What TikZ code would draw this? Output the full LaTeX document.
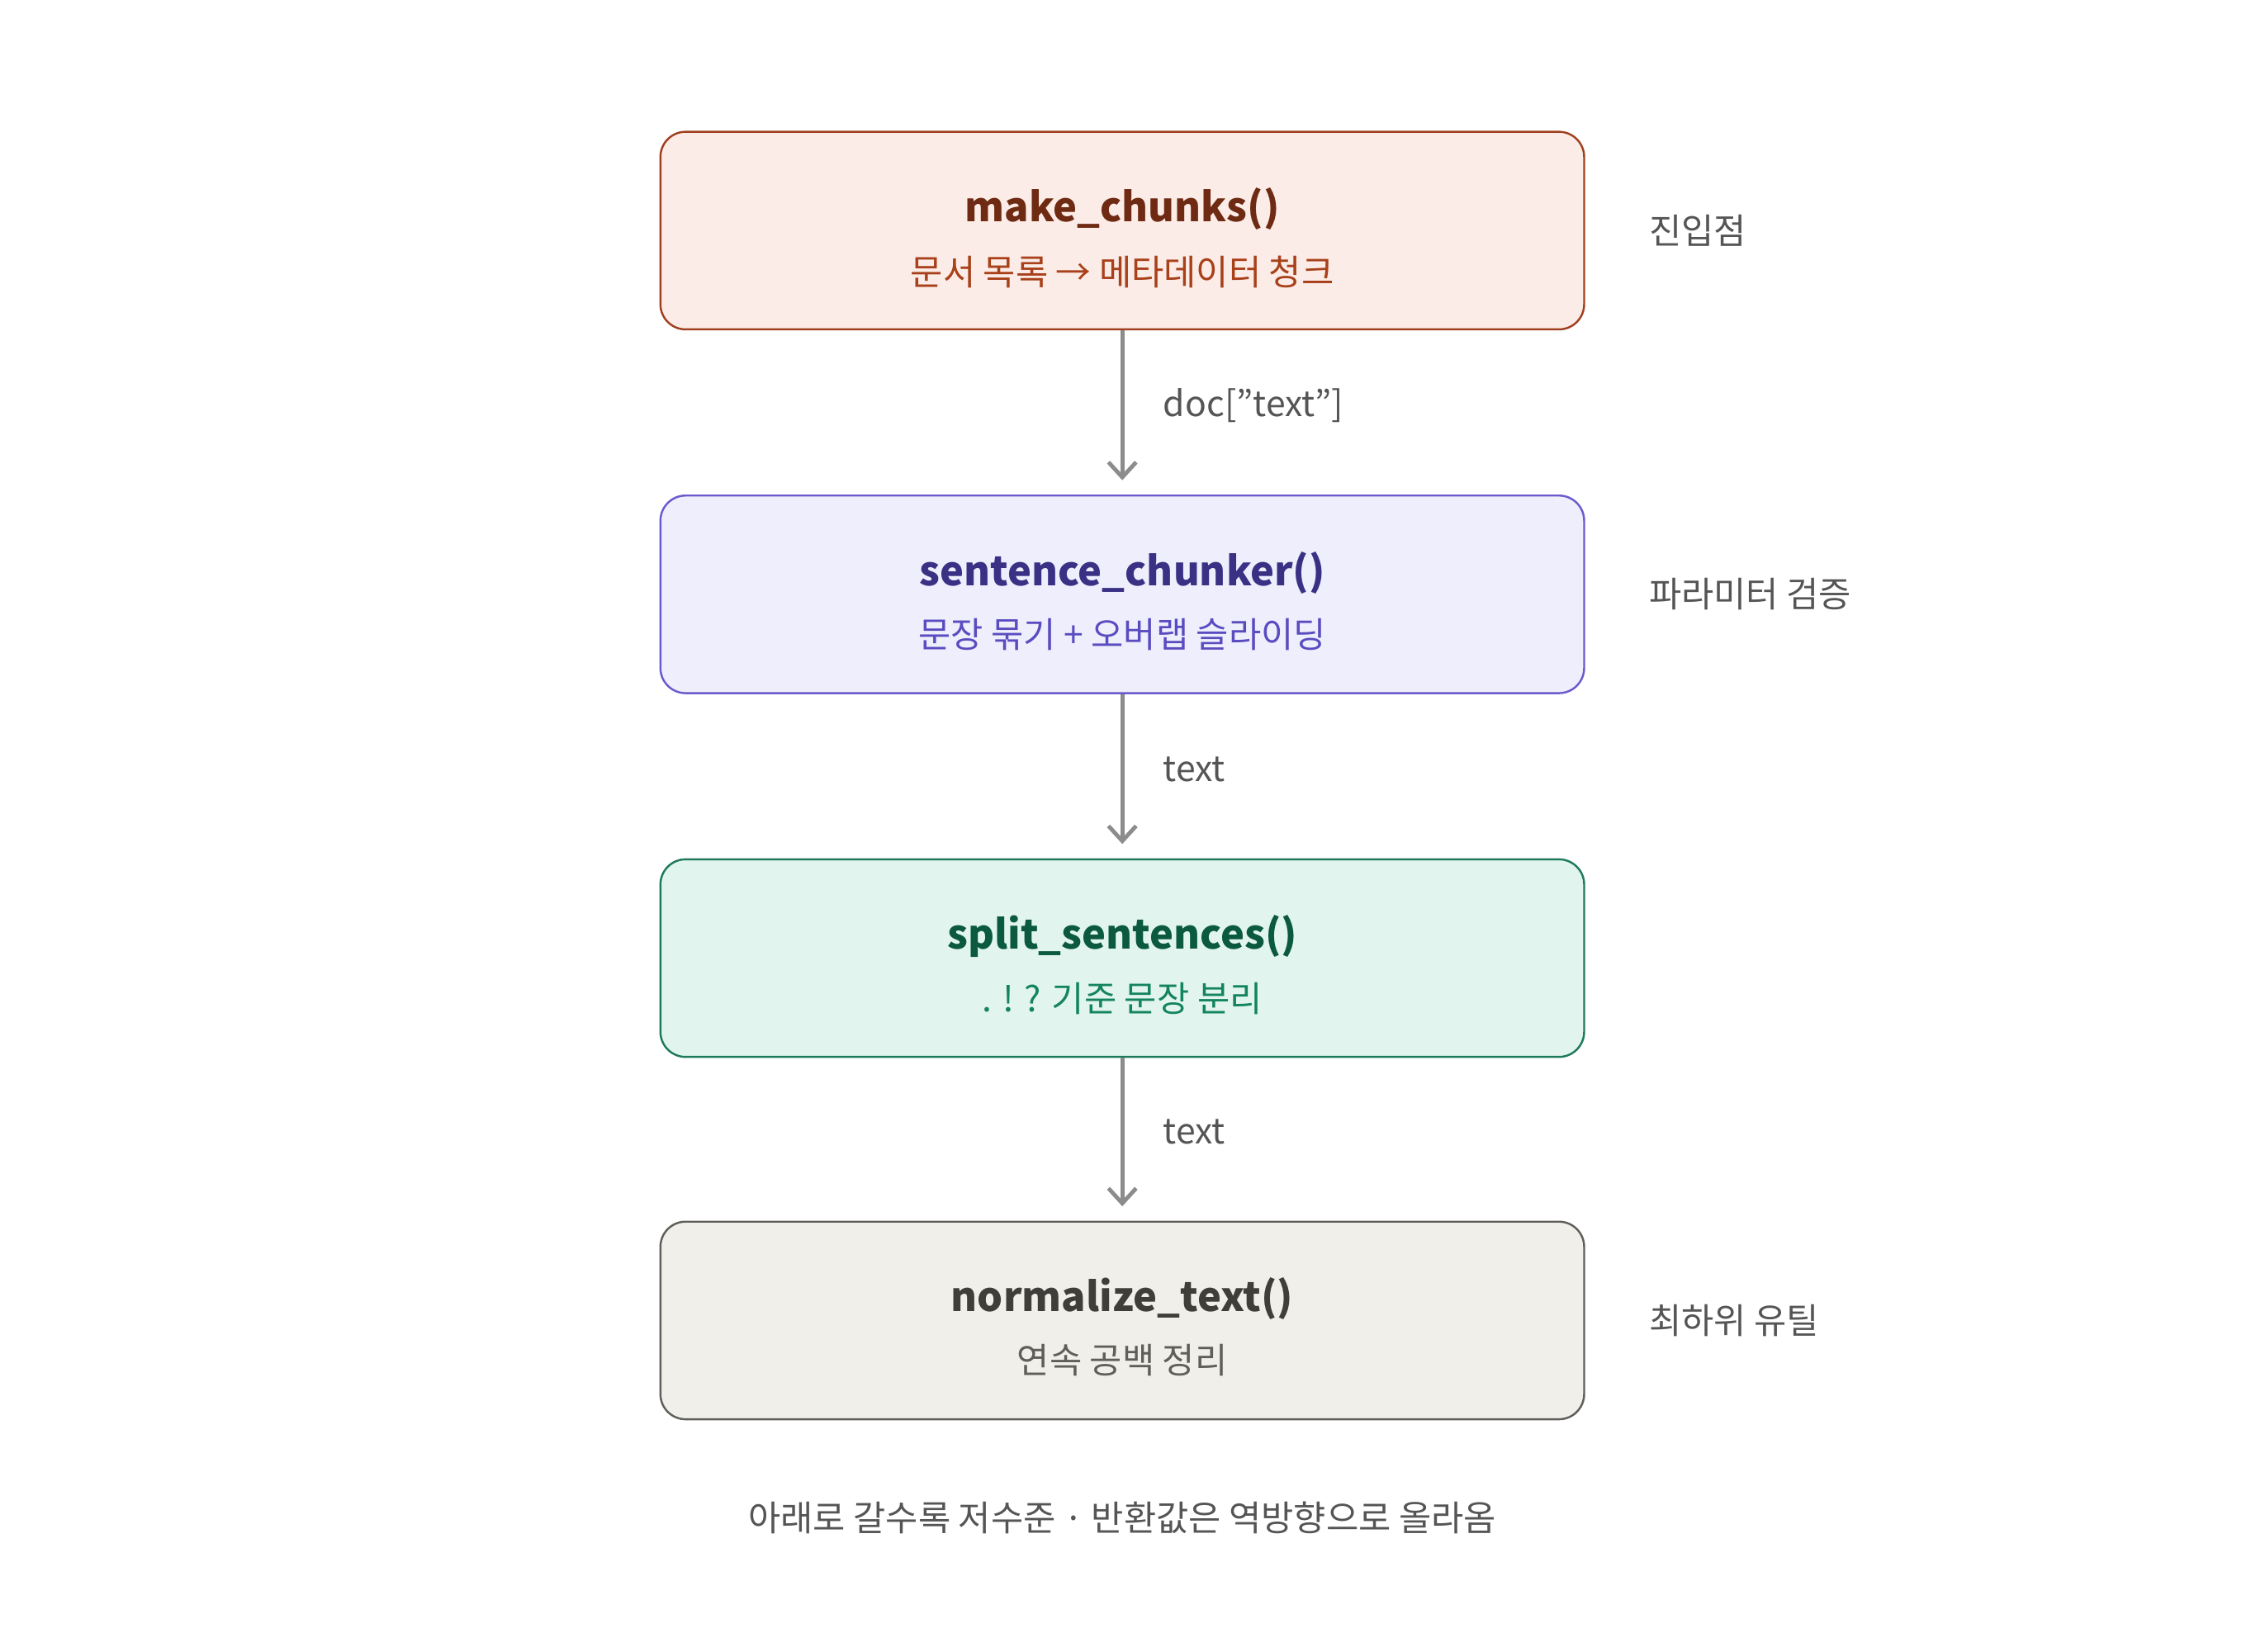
\documentclass[tikz,border=0pt]{standalone}
\usepackage{fontspec}
\setmainfont{Noto Sans CJK KR}
\usetikzlibrary{arrows.meta}
\usetikzlibrary{positioning}

\definecolor{redfill}{HTML}{FBECE7}\definecolor{redline}{HTML}{A0401F}
\definecolor{redtitle}{HTML}{6E2A12}\definecolor{redsub}{HTML}{A8401A}
\definecolor{bluefill}{HTML}{EEEEFC}\definecolor{blueline}{HTML}{6A5ACD}
\definecolor{bluetitle}{HTML}{3A3185}\definecolor{bluesub}{HTML}{5A4CC0}
\definecolor{greenfill}{HTML}{E1F5EE}\definecolor{greenline}{HTML}{1E7A5A}
\definecolor{greentitle}{HTML}{0B5A40}\definecolor{greensub}{HTML}{14845E}
\definecolor{grayfill}{HTML}{F1EFEA}\definecolor{grayline}{HTML}{5F5E5A}
\definecolor{graytitle}{HTML}{3F3E3A}\definecolor{graysub}{HTML}{5F5E5A}
\definecolor{note}{HTML}{555555}

\tikzset{
  box/.style={draw, rounded corners=10pt, minimum width=12.9cm, minimum height=2.76cm, line width=0.8pt},
  title/.style={font=\fontsize{16}{18}\selectfont\bfseries},
  sub/.style={font=\fontsize{14}{16}\selectfont},
  side/.style={anchor=west, text=note, font=\fontsize{14}{16}\selectfont},
  flow/.style={draw=gray!90, line width=1.6pt, -{Straight Barb[length=6pt,width=11pt]}},
  elabel/.style={right=0.45cm, text=note, font=\fontsize{14}{16}\selectfont}
}

\begin{document}
\begin{tikzpicture}[x=0.02cm, y=-0.02cm]
\useasboundingbox (0,0) rectangle (1568,1153);

\node[box, fill=redfill, draw=redline] (chunks) at (783.5,161) {};
\node[box, fill=bluefill, draw=blueline] (chunker) at (783.5,415) {};
\node[box, fill=greenfill, draw=greenline] (split) at (783.5,669) {};
\node[box, fill=grayfill, draw=grayline] (norm) at (783.5,922) {};

\node[title, text=redtitle] at (783.5,146) {make\_chunks()};
\node[sub, text=redsub] at (783.5,190) {문서 목록 → 메타데이터 청크};
\node[title, text=bluetitle] at (783.5,400) {sentence\_chunker()};
\node[sub, text=bluesub] at (783.5,443) {문장 묶기 + 오버랩 슬라이딩};
\node[title, text=greentitle] at (783.5,654) {split\_sentences()};
\node[sub, text=greensub] at (783.5,697) {. ! ? 기준 문장 분리};
\node[title, text=graytitle] at (783.5,907) {normalize\_text()};
\node[sub, text=graysub] at (783.5,950) {연속 공백 정리};

\node[side] at (1145,161) {진입점};
\node[side] at (1145,415) {파라미터 검증};
\node[side] at (1145,922) {최하위 유틸};

\draw[flow] (chunks) -- coordinate[midway] (e1) ([yshift=0.2cm]chunker.north);
\draw[flow] (chunker) -- coordinate[midway] (e2) ([yshift=0.2cm]split.north);
\draw[flow] (split) -- coordinate[midway] (e3) ([yshift=0.2cm]norm.north);
\node[elabel, anchor=west, right=0.45cm of e1] (l1) {doc["text"]};
\node[elabel, anchor=west, right=0.45cm of e2] (l2) {text};
\node[elabel, anchor=west, right=0.45cm of e3] (l3) {text};

\node[text=note, font=\fontsize{14}{16}\selectfont] (foot) at (783.5,1060) {아래로 갈수록 저수준 · 반환값은 역방향으로 올라옴};
\end{tikzpicture}
\end{document}
